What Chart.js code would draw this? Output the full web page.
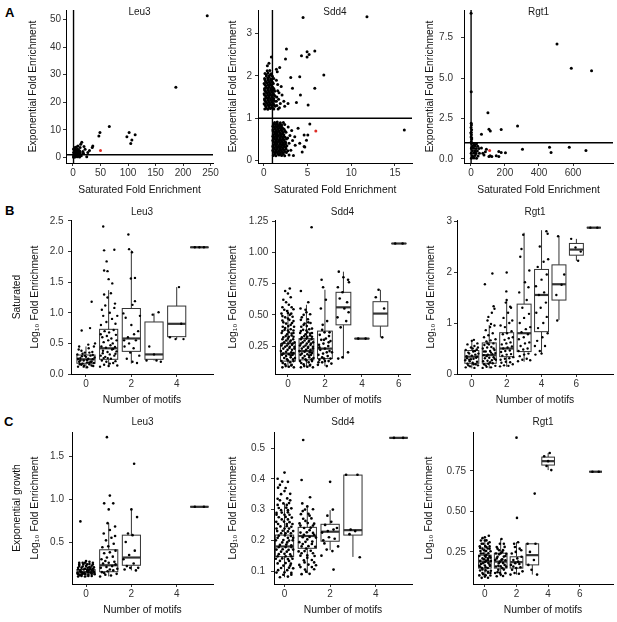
<!DOCTYPE html>
<html>
<head>
<meta charset="utf-8">
<script src="https://cdn.jsdelivr.net/npm/chart.js@4.4.0/dist/chart.umd.min.js"></script>
<style>
    body { margin: 0; width: 617px; height: 622px; background: #fff; position: relative; overflow: hidden;
           font-family: "Liberation Sans", Arial, Helvetica, sans-serif; }
    canvas { position: absolute; }
    .tag { position: absolute; font-weight: bold; font-size: 13px; color: #000; }
</style>
</head>
<body>
<div class="tag" style="left:5px;top:5px">A</div>
<div class="tag" style="left:5px;top:203px">B</div>
<div class="tag" style="left:4px;top:414px">C</div>
<canvas id="aLeu3"></canvas><canvas id="aSdd4"></canvas><canvas id="aRgt1"></canvas>
<canvas id="bLeu3"></canvas><canvas id="bSdd4"></canvas><canvas id="bRgt1"></canvas>
<canvas id="cLeu3"></canvas><canvas id="cSdd4"></canvas><canvas id="cRgt1"></canvas>
<script>
// -------- DATA --------
// panel titles / axis titles
const factors = ['Leu3', 'Sdd4', 'Rgt1'];
const scatterXTitle = 'Saturated Fold Enrichment';
const scatterYTitle = 'Exponential Fold Enrichment';
const motifTitle = 'Number of motifs';
const logTitle = 'Log\u2081\u2080 Fold Enrichment';
const refLevel = 1;

// A: saturated vs exponential fold enrichment (flat x, y pairs)
const aLeu3XTicks = ['0', '50', '100', '150', '200', '250'];
const aLeu3YTicks = ['0', '10', '20', '30', '40', '50'];
const aLeu3Range = [-12.7, 254.5, -2.0, 53.4];
const aLeu3Pts = [244,51.3, 187,25.4, 66,11.2, 49,9.0, 47,7.8, 102,9.0, 98,7.5, 113,8.2, 107,6.3, 105,5.1,
    1,0.5, 2,1.2, 3,0.8, 4,1.9, 5,0.4, 6,1.5, 7,2.3, 2,2.8, 3,3.4, 1,1.8, 4,0.2, 5,2.6, 6,0.9, 8,1.2,
    9,2.0, 10,0.7, 11,1.6, 3,1.1, 2,0.3, 7,0.6, 8,3.1, 12,2.4, 14,1.1, 13,3.6, 9,4.2, 16,5.5, 14,4.8,
    22,3.0, 19,1.5, 25,0.3, 30,2.5, 36,4.2, 35,3.6, 18,2.2, 20,4.0, 6,3.8, 4,2.9, 1,3.1, 15,0.6, 27,1.8,
    5,1.0, 3,2.0, 8,0.3, 11,0.9, 2,0.9, 6,2.1, 1,0.1, 10,2.8, 7,1.4, 12,0.2, 4,3.6, 9,0.5, 13,1.8];
const aLeu3Red = [50, 2.5];

const aSdd4XTicks = ['0', '5', '10', '15'];
const aSdd4YTicks = ['0', '1', '2', '3'];
const aSdd4Range = [-0.65, 16.95, -0.06, 3.56];
const aSdd4Pts = [
    0.12,1.22, 0.47,1.21, 0.78,1.23, 1.16,1.22, 0.25,1.28, 0.6,1.29, 0.95,1.27, 1.3,1.28,
    0.05,1.34, 0.4,1.35, 0.75,1.33, 1.1,1.34, 0.2,1.4, 0.55,1.41, 0.9,1.39, 1.25,1.4,
    0.1,1.46, 0.45,1.47, 0.8,1.45, 1.15,1.46, 0.25,1.52, 0.6,1.53, 0.95,1.51, 1.3,1.52,
    0.05,1.58, 0.4,1.59, 0.75,1.57, 1.1,1.58, 0.2,1.64, 0.55,1.65, 0.9,1.63, 1.25,1.64,
    0.1,1.7, 0.45,1.71, 0.8,1.69, 1.15,1.7, 0.25,1.76, 0.6,1.77, 0.95,1.75,
    0.05,1.82, 0.4,1.83, 0.75,1.81, 1.1,1.82, 0.2,1.88, 0.55,1.89, 0.9,1.87,
    0.1,1.94, 0.45,1.95, 0.8,1.93, 1.15,1.94, 0.3,2.0, 0.65,2.01, 1.0,1.99,
    0.15,2.06, 0.5,2.07, 0.85,2.05, 0.4,2.12, 0.7,2.13,
    0.3,1.25, 0.65,1.25, 1.0,1.25, 0.15,1.31, 0.5,1.31, 0.85,1.31, 1.2,1.31, 0.3,1.37, 0.65,1.37,
    1.0,1.37, 0.1,1.43, 0.45,1.43, 0.8,1.43, 1.15,1.43, 0.3,1.49, 0.65,1.49, 1.0,1.49, 0.1,1.55,
    0.45,1.55, 0.8,1.55, 1.2,1.55, 0.3,1.61, 0.65,1.61, 1.0,1.61, 0.1,1.67, 0.45,1.67, 0.8,1.67,
    1.2,1.67, 0.3,1.73, 0.65,1.73, 1.0,1.73, 0.15,1.79, 0.5,1.79, 0.85,1.79, 0.3,1.85, 0.65,1.85,
    1.0,1.85, 0.15,1.91, 0.5,1.91, 0.85,1.91, 0.6,1.97, 0.3,2.03, 0.8,2.03,
    1.5,1.3, 1.7,1.45, 1.9,1.35, 2.1,1.55, 1.6,1.65, 2.3,1.4, 1.8,1.25, 1.45,1.9, 2.0,1.75, 2.4,1.28,
    1.55,2.1, 1.65,1.22, 1.5,1.5, 1.75,1.6, 1.45,1.4, 1.6,1.8,
    0.42,2.24, 0.88,2.45, 1.45,2.16, 1.83,2.2, 0.6,2.3,
    4.5,3.38, 11.8,3.4, 2.6,2.64, 4.96,2.57, 5.19,2.51, 5.84,2.59, 4.96,2.45, 4.32,2.48, 2.49,2.4,
    6.87,2.02, 3.09,1.96, 4.12,1.98, 3.29,1.71, 5.84,1.71, 4.2,1.55, 5.08,1.31, 3.74,1.37, 2.78,1.35,
    1.1,0.12, 1.4,0.11, 1.75,0.13, 2.05,0.12, 2.4,0.11, 2.9,0.13, 3.4,0.12,
    1.25,0.18, 1.55,0.19, 1.9,0.17, 2.2,0.18, 2.6,0.19,
    1.05,0.24, 1.4,0.25, 1.7,0.23, 2.0,0.24, 2.35,0.25, 2.75,0.23, 3.1,0.24,
    1.2,0.3, 1.55,0.31, 1.85,0.29, 2.15,0.3, 2.5,0.31,
    1.1,0.36, 1.4,0.37, 1.7,0.35, 2.05,0.36, 2.35,0.37, 2.65,0.35, 3.6,0.36,
    1.25,0.42, 1.55,0.43, 1.9,0.41, 2.2,0.42, 2.5,0.43, 2.9,0.41,
    1.05,0.48, 1.4,0.49, 1.7,0.47, 2.0,0.48, 2.3,0.49, 3.3,0.47,
    1.2,0.54, 1.5,0.55, 1.85,0.53, 2.15,0.54, 2.45,0.55, 2.75,0.53,
    1.1,0.6, 1.4,0.61, 1.7,0.59, 2.0,0.6, 2.3,0.61, 3.0,0.59,
    1.25,0.66, 1.55,0.67, 1.85,0.65, 2.2,0.66, 2.55,0.67,
    1.05,0.72, 1.35,0.73, 1.7,0.71, 2.0,0.72, 2.35,0.73, 3.2,0.71,
    1.2,0.78, 1.5,0.79, 1.8,0.77, 2.1,0.78, 2.8,0.79,
    1.1,0.84, 1.4,0.85, 1.7,0.83, 2.05,0.84, 2.4,0.85,
    1.25,0.9, 1.55,0.91, 1.9,0.89, 2.25,0.9,
    1.25,0.15, 1.6,0.15, 1.9,0.15, 2.25,0.15, 1.1,0.21, 1.4,0.21, 1.75,0.21, 2.05,0.21, 2.4,0.21,
    1.25,0.27, 1.55,0.27, 1.85,0.27, 2.2,0.27, 2.55,0.27, 1.05,0.33, 1.4,0.33, 1.7,0.33, 2.0,0.33,
    2.35,0.33, 1.25,0.39, 1.55,0.39, 1.85,0.39, 2.2,0.39, 2.5,0.39, 1.1,0.45, 1.4,0.45, 1.75,0.45,
    2.05,0.45, 2.4,0.45, 1.25,0.51, 1.55,0.51, 1.85,0.51, 2.2,0.51, 2.6,0.51, 1.05,0.57, 1.35,0.57,
    1.65,0.57, 2.0,0.57, 2.3,0.57, 1.25,0.63, 1.55,0.63, 1.9,0.63, 2.15,0.63, 1.1,0.69, 1.45,0.69,
    1.75,0.69, 2.1,0.69, 2.45,0.69, 1.3,0.75, 1.6,0.75, 1.95,0.75, 2.25,0.75, 1.05,0.81, 1.35,0.81,
    1.65,0.81, 1.95,0.81, 1.2,0.87, 1.55,0.87, 1.85,0.87,
    3.93,0.76, 4.62,0.6, 5.27,0.86, 4.62,0.33, 4.89,0.48, 16.07,0.72, 3.55,0.56, 4.12,0.41,
    5.04,0.6, 4.7,0.32, 4.4,0.2];
const aSdd4Red = [5.96, 0.70];

const aRgt1XTicks = ['0', '200', '400', '600'];
const aRgt1YTicks = ['0.0', '2.5', '5.0', '7.5'];
const aRgt1Range = [-40.6, 835, -0.25, 9.2];
const aRgt1Pts = [2,1.05, 4,1.2, 1,1.35, 3,1.5, 2,1.65, 4,1.8, 1,1.95, 3,2.1, 2,2.2, 5,1.3, 0,1.6,
    2,4.15, 1,9.0, 5,1.0,
    3,0.05, 18,0.06, 33,0.04, 8,0.2, 24,0.21, 42,0.19, 2,0.35, 16,0.36, 30,0.34, 50,0.35,
    9,0.5, 24,0.51, 38,0.49, 3,0.65, 17,0.66, 31,0.64, 47,0.65, 10,0.8, 25,0.81, 40,0.79,
    4,0.95, 19,0.96, 33,0.94, 12,0.12, 26,0.42, 6,0.72, 20,0.88,
    506,7.1, 590,5.6, 709,5.45, 274,2.03, 178,1.82, 100,2.85, 106,1.83, 114,1.73, 62,1.53,
    303,0.6, 462,0.73, 578,0.73, 471,0.4, 676,0.52, 164,0.46, 178,0.4, 203,0.38, 164,0.15,
    113,0.2, 149,0.2, 106,0.15, 123,0.15, 77,0.25, 91,0.6, 62,0.67, 85,0.45, 70,0.35];
const aRgt1Red = [110, 0.52];

// B: saturated log10 fold enrichment by motif count
// box stats: [motifs, lower whisker, q1, median, q3, upper whisker]
const bLeu3XTicks = ['0', '2', '4'];
const bLeu3YTicks = ['0.0', '0.5', '1.0', '1.5', '2.0', '2.5'];
const bLeu3Range = [-0.66, 5.6, 0, 2.516];
const bLeu3Box = [[0, 0.09, 0.175, 0.24, 0.31, 0.45], [1, 0.12, 0.24, 0.42, 0.73, 1.37],
    [2, 0.17, 0.37, 0.58, 1.07, 2.02], [3, 0.22, 0.24, 0.32, 0.85, 0.99],
    [4, 0.57, 0.61, 0.82, 1.11, 1.42], [5, 2.07, 2.07, 2.07, 2.07, 2.07]];
const bLeu3Pts = [-0.35,0.12, -0.2,0.15, 0.05,0.11, 0.25,0.14, 0.35,0.18, -0.3,0.2, -0.1,0.22, 0.15,0.19,
    0.3,0.24, -0.25,0.26, 0,0.28, 0.2,0.3, -0.38,0.32, -0.15,0.17, 0.1,0.25, 0.38,0.27, -0.05,0.35,
    0.28,0.36, -0.32,0.4, 0.12,0.42, -0.2,0.38, 0.35,0.45, -0.3,0.45, 0.1,0.48, 0.18,0.75, -0.19,0.71,
    0.25,1.18, 0.4,0.5, -0.08,0.14, 0.22,0.2, -0.18,0.29, 0.05,0.19, 0.32,0.13, -0.27,0.16,
    -0.1,0.12, 0.15,0.16, -0.25,0.22, 0.05,0.23, 0.25,0.2, -0.35,0.25, -0.05,0.3, 0.3,0.31, -0.15,0.33,
    0.15,0.35,
    0.62,0.12, 0.8,0.15, 1.0,0.13, 1.2,0.18, 1.38,0.14, 0.7,0.22, 0.9,0.2, 1.1,0.25, 1.3,0.21,
    0.65,0.3, 0.85,0.28, 1.05,0.32, 1.25,0.3, 0.75,0.38, 0.95,0.36, 1.15,0.4, 1.35,0.37, 0.68,0.45,
    0.88,0.43, 1.08,0.47, 1.28,0.44, 0.78,0.52, 0.98,0.55, 1.18,0.5, 0.72,0.6, 0.92,0.62, 1.12,0.58,
    1.32,0.64, 0.82,0.7, 1.02,0.68, 1.22,0.72, 0.66,0.8, 0.9,0.85, 1.15,0.9, 1.3,0.82, 0.76,0.95,
    1.05,1.0, 1.25,1.08, 0.85,1.12, 1.28,1.15, 0.95,1.25, 0.8,1.3, 1.1,1.32, 1.16,1.48, 0.91,1.84,
    0.8,1.69, 0.95,1.68, 0.76,2.41, 0.8,2.02, 1.25,2.03, 1.0,1.55, 0.7,1.05, 1.35,0.55, 0.65,0.65,
    1.38,0.95, 0.74,0.34, 1.2,0.41, 0.96,0.26, 1.05,0.17, 0.78,0.26, 1.3,0.33,
    1.87,2.28, 1.9,2.04, 2.03,1.99, 1.98,1.56, 2.16,1.57, 2.16,1.19, 2.05,1.13, 1.65,0.99, 1.75,0.92,
    2.0,0.8, 2.3,0.7, 1.85,0.6, 2.2,0.55, 1.7,0.45, 2.1,0.42, 1.95,0.35, 2.35,0.3, 1.8,0.25, 2.05,0.2,
    2.25,0.18, 1.68,0.55, 2.38,0.95, 1.9,0.5, 2.12,0.65,
    2.94,0.97, 3.2,1.01, 2.79,0.45, 3.11,0.22, 2.67,0.22, 3.0,0.32, 3.3,0.2,
    3.7,0.6, 3.95,0.57, 4.3,0.57, 4.1,1.42, 4.2,0.82,
    4.8,2.07, 5.0,2.07, 5.2,2.07];

const bSdd4XTicks = ['0', '2', '4', '6'];
const bSdd4YTicks = ['0.25', '0.50', '0.75', '1.00', '1.25'];
const bSdd4Range = [-0.7, 6.6, 0.027, 1.258];
const bSdd4Box = [[0, 0.08, 0.13, 0.19, 0.27, 0.54], [1, 0.08, 0.14, 0.21, 0.31, 0.58],
    [2, 0.09, 0.15, 0.23, 0.37, 0.70], [3, 0.15, 0.42, 0.56, 0.68, 0.845],
    [4, 0.31, 0.31, 0.31, 0.31, 0.31], [5, 0.32, 0.41, 0.51, 0.605, 0.70], [6, 1.07, 1.07, 1.07, 1.07, 1.07]];
const bSdd4Pts = [-0.3,0.08, 0.05,0.085, 0.32,0.08, -0.15,0.105, 0.2,0.1, -0.35,0.13, 0.0,0.135, 0.3,0.13,
    -0.2,0.155, 0.15,0.16, 0.38,0.155, -0.32,0.18, 0.05,0.185, 0.25,0.18, -0.1,0.205, 0.18,0.2, -0.38,0.21,
    -0.25,0.23, 0.08,0.235, 0.35,0.23, -0.05,0.255, 0.22,0.26, -0.35,0.255, -0.2,0.28, 0.12,0.285, 0.36,0.28,
    -0.3,0.305, 0.0,0.31, 0.28,0.305, -0.12,0.33, 0.2,0.335, -0.34,0.355, 0.05,0.36, 0.3,0.355,
    -0.18,0.38, 0.15,0.385, -0.28,0.405, 0.02,0.41, 0.33,0.405, -0.1,0.43, 0.22,0.435, -0.3,0.455,
    0.08,0.46, -0.15,0.48, 0.25,0.485, -0.35,0.51, 0.0,0.515, 0.18,0.51, -0.2,0.54, 0.3,0.545,
    0.05,0.58, -0.1,0.6, -0.25,0.62, 0.15,0.64, 0.0,0.67, -0.15,0.69, 0.1,0.71,
    -0.12,0.09, 0.18,0.095, -0.28,0.115, 0.12,0.12, -0.05,0.145, 0.28,0.145, -0.1,0.17, 0.15,0.175,
    -0.25,0.19, 0.3,0.195, -0.02,0.22, 0.22,0.22, -0.15,0.245, 0.1,0.245, 0.35,0.245, -0.3,0.27,
    0.02,0.27, 0.25,0.27, -0.1,0.295, 0.15,0.295, -0.25,0.32, 0.05,0.325, 0.3,0.325, -0.05,0.345,
    0.2,0.35, -0.3,0.37, 0.0,0.375, 0.3,0.375, -0.15,0.395, 0.15,0.42, -0.25,0.44, 0.3,0.45, 0.0,0.47,
    -0.3,0.49, 0.1,0.5, -0.05,0.53, 0.2,0.56, -0.3,0.56,
    0.7,0.08, 1.05,0.085, 1.35,0.08, 0.85,0.105, 1.2,0.1, 0.65,0.13, 1.0,0.135, 1.3,0.13, 0.8,0.155,
    1.15,0.16, 1.38,0.155, 0.68,0.18, 1.05,0.185, 1.25,0.18, 0.9,0.205, 1.18,0.2, 0.62,0.21, 0.75,0.23,
    1.08,0.235, 1.35,0.23, 0.95,0.255, 1.22,0.26, 0.65,0.255, 0.8,0.28, 1.12,0.285, 1.36,0.28, 0.7,0.305,
    1.0,0.31, 1.28,0.305, 0.88,0.33, 1.2,0.335, 0.66,0.355, 1.05,0.36, 1.3,0.355, 0.82,0.38, 1.15,0.385,
    0.72,0.405, 1.02,0.41, 0.9,0.43, 1.22,0.435, 0.7,0.46, 1.08,0.465, 0.85,0.5, 1.2,0.505, 0.95,0.54,
    0.68,0.55, 1.1,0.6, 0.7,0.69, 1.28,1.2,
    0.88,0.09, 1.18,0.095, 0.72,0.115, 1.12,0.12, 0.95,0.145, 1.28,0.145, 0.9,0.17, 1.15,0.175,
    0.75,0.19, 1.3,0.195, 0.98,0.22, 1.22,0.22, 0.85,0.245, 1.1,0.245, 1.35,0.245, 0.7,0.27, 1.02,0.27,
    1.25,0.27, 0.9,0.295, 1.15,0.295, 0.75,0.32, 1.05,0.325, 1.3,0.325, 0.95,0.345, 1.2,0.35, 0.7,0.37,
    1.0,0.375, 1.3,0.39, 0.85,0.42, 1.1,0.44, 0.75,0.48, 1.0,0.52,
    1.62,0.1, 1.85,0.12, 2.1,0.09, 2.35,0.11, 1.7,0.14, 1.95,0.15, 2.2,0.13, 1.65,0.18, 1.9,0.19,
    2.15,0.17, 2.38,0.2, 1.75,0.22, 2.0,0.23, 2.25,0.21, 1.68,0.26, 1.92,0.27, 2.18,0.25, 1.8,0.3,
    2.05,0.31, 2.3,0.29, 1.72,0.34, 1.98,0.36, 2.22,0.33, 1.88,0.42, 2.12,0.45, 1.78,0.55, 1.82,0.78,
    1.9,0.72, 2.05,0.62, 1.65,0.12, 2.0,0.13, 2.3,0.15, 1.85,0.16, 2.1,0.2, 1.7,0.24, 2.2,0.28,
    1.95,0.3, 2.25,0.36, 1.85,0.38,
    2.75,0.845, 3.0,0.8, 3.25,0.78, 3.3,0.76, 2.7,0.72, 2.95,0.68, 2.8,0.63, 3.2,0.6, 3.05,0.55,
    3.28,0.52, 2.68,0.48, 3.15,0.45, 2.72,0.15, 3.25,0.2, 2.95,0.16, 2.85,0.4,
    3.8,0.31, 4.2,0.31, 4.9,0.70, 4.75,0.64, 5.1,0.32, 5.2,0.55, 5.8,1.07, 6.2,1.07];

const bRgt1XTicks = ['0', '2', '4', '6'];
const bRgt1YTicks = ['0', '1', '2', '3'];
const bRgt1Range = [-0.85, 8.1, 0, 3.02];
const bRgt1Box = [[0, 0.11, 0.21, 0.34, 0.46, 0.67], [1, 0.11, 0.21, 0.37, 0.61, 0.96],
    [2, 0.14, 0.34, 0.5, 0.81, 1.45], [3, 0.24, 0.44, 0.8, 1.37, 2.77], [4, 0.39, 0.83, 1.55, 2.05, 2.82],
    [5, 1.06, 1.45, 1.76, 2.14, 2.71], [6, 2.22, 2.33, 2.44, 2.56, 2.65], [7, 2.87, 2.87, 2.87, 2.87, 2.87]];
const bRgt1Pts = [-0.35,0.13, -0.1,0.15, 0.15,0.12, 0.35,0.17, -0.25,0.2, 0.05,0.22, 0.3,0.24, -0.38,0.27,
    -0.15,0.28, 0.1,0.3, 0.25,0.32, -0.3,0.35, 0,0.36, 0.2,0.38, 0.38,0.4, -0.2,0.42, 0.08,0.44,
    -0.35,0.47, 0.28,0.48, -0.05,0.52, 0.15,0.55, -0.25,0.58, 0.32,0.6, 0,0.65, 0.12,0.67, -0.12,0.25,
    0.22,0.19, -0.28,0.31, 0.18,0.45, -0.2,0.17, 0.1,0.19, -0.05,0.29, 0.3,0.34, -0.15,0.4, 0.05,0.5,
    0.35,0.52,
    0.62,0.12, 0.85,0.14, 1.1,0.13, 1.35,0.16, 0.7,0.19, 0.95,0.2, 1.2,0.21, 0.65,0.25, 0.9,0.26,
    1.15,0.27, 1.38,0.28, 0.75,0.31, 1.0,0.32, 1.25,0.33, 0.68,0.37, 0.92,0.38, 1.18,0.39, 1.35,0.41,
    0.8,0.44, 1.05,0.45, 1.3,0.47, 0.63,0.5, 0.88,0.52, 1.12,0.53, 0.72,0.57, 0.98,0.58, 1.24,0.6,
    0.84,0.64, 1.08,0.66, 1.36,0.68, 0.7,0.72, 0.95,0.76, 1.2,0.8, 0.8,0.86, 1.05,0.92, 1.3,0.95,
    0.9,1.05, 1.15,1.2, 1.3,1.28, 1.25,1.33, 0.75,1.76, 1.18,1.97, 0.95,1.12, 1.1,0.98,
    0.8,0.17, 1.05,0.23, 1.3,0.3, 0.85,0.35, 1.1,0.42, 0.7,0.44, 1.25,0.5, 0.9,0.6,
    1.62,0.15, 1.85,0.17, 2.1,0.16, 2.35,0.19, 1.7,0.22, 1.95,0.24, 2.2,0.23, 1.65,0.28, 1.9,0.3,
    2.15,0.31, 2.38,0.33, 1.75,0.36, 2.0,0.38, 2.25,0.39, 1.68,0.43, 1.92,0.45, 2.18,0.46, 1.8,0.5,
    2.05,0.52, 2.3,0.54, 1.72,0.58, 1.98,0.6, 2.22,0.62, 1.88,0.67, 2.12,0.7, 2.35,0.72, 1.78,0.78,
    2.02,0.8, 2.28,0.84, 1.9,0.92, 2.15,1.0, 1.82,1.1, 2.08,1.2, 2.25,1.3, 2.2,1.32, 1.95,1.4,
    2.0,1.45, 1.98,1.62, 2.0,1.99, 1.65,0.95, 2.32,1.05,
    2.65,0.25, 2.9,0.28, 3.15,0.3, 3.35,0.27, 2.75,0.35, 3.0,0.38, 3.25,0.4, 2.68,0.45, 2.95,0.48,
    3.2,0.5, 2.8,0.55, 3.05,0.6, 3.3,0.62, 2.7,0.68, 2.98,0.72, 3.22,0.78, 2.85,0.82, 3.1,0.88,
    3.35,0.92, 2.75,1.0, 3.0,1.1, 3.28,1.18, 2.9,1.3, 3.15,1.45, 2.72,1.6, 3.05,1.8, 3.3,2.03,
    2.78,2.3, 2.85,2.45, 2.95,2.73, 3.25,1.7,
    3.65,0.38, 3.9,0.45, 4.2,0.55, 3.75,0.65, 4.05,0.72, 4.35,0.8, 3.8,0.9, 4.1,1.0, 4.3,1.12,
    3.7,1.2, 3.95,1.3, 4.25,1.4, 3.85,1.55, 4.15,1.6, 3.68,1.72, 4.0,1.85, 4.3,1.95, 3.78,2.1,
    4.12,2.2, 4.38,2.25, 3.9,2.5, 4.28,2.8, 4.35,2.75, 3.62,0.55, 4.0,0.4,
    4.95,2.7, 5.3,1.95, 4.85,1.55, 4.9,1.05, 5.15,1.75, 5.7,2.65, 6.1,2.22, 5.95,2.48, 6.25,2.4,
    6.8,2.87, 7.2,2.87];

// C: exponential growth log10 fold enrichment by motif count
const cLeu3XTicks = ['0', '2', '4'];
const cLeu3YTicks = ['0.5', '1.0', '1.5'];
const cLeu3Range = [-0.62, 5.6, 0.012, 1.78];
const cLeu3Box = [[0, 0.09, 0.13, 0.15, 0.18, 0.27], [1, 0.1, 0.155, 0.23, 0.41, 0.72],
    [2, 0.17, 0.23, 0.32, 0.58, 0.88], [5, 0.91, 0.91, 0.91, 0.91, 0.91]];
const cLeu3Pts = [-0.35,0.1, -0.05,0.1, 0.25,0.105, -0.2,0.12, 0.1,0.12, 0.38,0.125, -0.38,0.14, -0.08,0.14,
    0.22,0.145, -0.25,0.16, 0.05,0.16, 0.32,0.165, -0.35,0.18, -0.1,0.18, 0.18,0.185, -0.2,0.2,
    0.08,0.2, 0.35,0.205, -0.3,0.22, 0.0,0.22, 0.25,0.225, -0.12,0.24, 0.15,0.245, -0.3,0.26, 0.3,0.26,
    0.0,0.28, -0.25,0.74, -0.15,0.13, 0.3,0.19, -0.28,0.115, 0.12,0.175, -0.05,0.26,
    -0.2,0.105, 0.1,0.105, -0.35,0.125, -0.05,0.128, 0.25,0.13, -0.2,0.15, 0.1,0.15, 0.35,0.15,
    -0.25,0.17, 0.05,0.175, 0.25,0.17, -0.35,0.2, -0.05,0.19, 0.2,0.2, -0.15,0.215, 0.15,0.21,
    -0.3,0.24, 0.05,0.24, 0.3,0.24, -0.15,0.26, 0.15,0.27,
    0.62,0.1, 0.85,0.12, 1.1,0.11, 1.35,0.13, 0.7,0.15, 0.95,0.16, 1.2,0.17, 0.65,0.2, 0.9,0.21,
    1.15,0.22, 1.38,0.19, 0.75,0.25, 1.0,0.26, 1.25,0.27, 0.68,0.3, 0.92,0.32, 1.18,0.33, 0.8,0.37,
    1.05,0.38, 1.3,0.4, 0.72,0.44, 0.98,0.45, 1.22,0.48, 0.88,0.52, 1.12,0.55, 1.28,0.57, 0.78,0.6,
    1.05,0.64, 1.28,0.68, 0.95,0.72, 1.0,0.88, 0.8,0.95, 1.2,0.95, 1.05,1.04, 0.92,1.72,
    0.8,0.14, 1.05,0.18, 1.3,0.24, 0.85,0.28,
    1.7,0.18, 1.95,0.2, 2.2,0.17, 1.8,0.22, 2.1,0.25, 2.3,0.2, 1.65,0.3, 1.9,0.35, 2.15,0.4, 1.75,0.5,
    2.05,0.58, 1.85,0.6, 2.25,0.79, 2.0,0.88, 2.12,1.41,
    4.8,0.91, 5.2,0.91];

const cSdd4XTicks = ['0', '2', '4'];
const cSdd4YTicks = ['0.1', '0.2', '0.3', '0.4', '0.5'];
const cSdd4Range = [-0.46, 5.59, 0.058, 0.552];
const cSdd4Box = [[0, 0.08, 0.147, 0.18, 0.217, 0.32], [1, 0.093, 0.174, 0.214, 0.242, 0.31],
    [2, 0.168, 0.197, 0.228, 0.252, 0.298], [3, 0.146, 0.217, 0.233, 0.412, 0.412], [5, 0.533, 0.533, 0.533, 0.533, 0.533]];
const cSdd4Pts = [-0.2,0.08, 0.15,0.082, -0.35,0.095, 0.0,0.096, 0.3,0.094, -0.15,0.11, 0.2,0.111, 0.38,0.109,
    -0.3,0.125, 0.05,0.126, 0.28,0.124, -0.38,0.14, -0.1,0.141, 0.15,0.139, 0.35,0.14, -0.25,0.155,
    0.0,0.156, 0.25,0.154, -0.35,0.17, -0.08,0.171, 0.18,0.169, 0.38,0.17, -0.2,0.185, 0.08,0.186,
    0.3,0.184, -0.38,0.2, -0.05,0.201, 0.2,0.199, 0.36,0.2, -0.25,0.215, 0.02,0.216, 0.28,0.214,
    -0.32,0.23, -0.08,0.231, 0.15,0.229, 0.38,0.23, -0.18,0.245, 0.1,0.246, 0.3,0.244, -0.36,0.26,
    -0.02,0.261, 0.22,0.259, -0.25,0.275, 0.05,0.276, 0.32,0.274, -0.12,0.29, 0.15,0.291, -0.35,0.289,
    -0.25,0.305, 0.08,0.306, 0.3,0.304, -0.05,0.32, 0.2,0.321, -0.3,0.335, 0.12,0.336, -0.15,0.35,
    0.25,0.351, 0.05,0.37, -0.28,0.371, 0.15,0.39, -0.1,0.391, -0.3,0.4, 0.0,0.42,
    -0.05,0.088, 0.3,0.088, -0.28,0.103, 0.12,0.103, -0.05,0.118, 0.25,0.118, -0.2,0.133, 0.2,0.133,
    -0.3,0.148, 0.05,0.148, 0.3,0.148, -0.15,0.163, 0.1,0.163, -0.25,0.178, 0.05,0.178, 0.3,0.178,
    -0.1,0.193, 0.12,0.193, -0.3,0.208, 0.15,0.208, 0.38,0.208, -0.15,0.223, 0.05,0.223, 0.28,0.223,
    -0.35,0.238, 0.0,0.238, 0.2,0.238, -0.28,0.253, 0.1,0.253, 0.35,0.253, -0.12,0.268, 0.15,0.268,
    -0.35,0.283, 0.0,0.283, 0.22,0.283, -0.15,0.298, 0.15,0.298, -0.3,0.315, 0.1,0.315, -0.2,0.33,
    0.25,0.33, 0.0,0.36, -0.2,0.38,
    0.75,0.09, 1.1,0.091, 0.9,0.105, 1.3,0.106, 0.65,0.12, 1.05,0.121, 1.38,0.119, 0.85,0.135,
    1.2,0.136, 0.7,0.15, 1.0,0.151, 1.32,0.149, 0.88,0.165, 1.15,0.166, 0.62,0.164, 0.75,0.18,
    1.05,0.181, 1.35,0.179, 0.92,0.195, 1.22,0.196, 0.65,0.194, 0.8,0.21, 1.1,0.211, 1.38,0.209,
    0.7,0.225, 0.98,0.226, 1.25,0.224, 0.86,0.24, 1.15,0.241, 0.66,0.255, 1.02,0.256, 1.3,0.254,
    0.82,0.27, 1.18,0.271, 0.72,0.285, 1.05,0.286, 0.9,0.3, 1.25,0.301, 0.78,0.32, 1.12,0.34,
    0.75,0.396, 0.82,0.526,
    0.95,0.098, 0.7,0.113, 1.2,0.113, 0.88,0.128, 1.3,0.128, 1.0,0.143, 0.75,0.158, 1.25,0.158,
    0.95,0.173, 1.2,0.188, 0.8,0.188, 1.0,0.203, 1.3,0.218, 0.85,0.218, 1.1,0.233, 0.7,0.248,
    1.25,0.248, 0.92,0.263, 1.1,0.28, 0.8,0.295, 1.0,0.31,
    1.62,0.15, 1.85,0.17, 2.1,0.165, 2.35,0.18, 1.7,0.2, 1.95,0.21, 2.2,0.205, 1.65,0.225, 1.9,0.23,
    2.15,0.235, 2.3,0.24, 1.78,0.25, 2.05,0.26, 1.88,0.28, 2.12,0.3, 1.75,0.19, 2.0,0.39, 2.15,0.105,
    2.7,0.413, 3.2,0.413, 2.9,0.235, 3.1,0.23, 3.3,0.145, 2.85,0.22,
    4.8,0.533, 5.2,0.533];

const cRgt1XTicks = ['0', '2', '4', '6'];
const cRgt1YTicks = ['0.25', '0.50', '0.75'];
const cRgt1Range = [-0.75, 8.1, 0.052, 0.99];
const cRgt1Box = [[0, 0.09, 0.15, 0.19, 0.23, 0.33], [1, 0.1, 0.15, 0.19, 0.242, 0.33],
    [2, 0.11, 0.15, 0.187, 0.22, 0.31], [3, 0.11, 0.17, 0.23, 0.30, 0.30],
    [4, 0.755, 0.786, 0.81, 0.835, 0.86], [7, 0.745, 0.745, 0.745, 0.745, 0.745]];
const cRgt1Pts = [-0.2,0.09, 0.2,0.091, -0.35,0.105, 0.05,0.106, 0.35,0.104, -0.15,0.12, 0.2,0.121,
    -0.3,0.135, 0.05,0.136, 0.38,0.134, -0.18,0.15, 0.18,0.151, -0.35,0.165, 0.0,0.166, 0.32,0.164,
    -0.12,0.18, 0.22,0.181, -0.3,0.195, 0.08,0.196, 0.38,0.194, -0.15,0.21, 0.2,0.211, -0.35,0.225,
    0.0,0.226, 0.3,0.224, -0.1,0.24, 0.22,0.241, -0.28,0.255, 0.08,0.256, 0.36,0.254, -0.15,0.27,
    0.18,0.271, -0.32,0.285, 0.02,0.286, 0.3,0.284, -0.1,0.3, 0.2,0.301, -0.25,0.32, 0.1,0.321,
    0.0,0.34, -0.15,0.335, 0.25,0.35,
    0.0,0.098, -0.1,0.112, 0.35,0.12, 0.2,0.128, -0.15,0.142, 0.05,0.155, -0.3,0.158, 0.3,0.172,
    0.0,0.188, -0.25,0.175, 0.2,0.2, -0.05,0.205, 0.35,0.215, 0.05,0.218, -0.25,0.24, 0.1,0.232,
    -0.05,0.26, 0.3,0.27, -0.3,0.275, 0.1,0.28, -0.2,0.3, 0.3,0.31, 0.0,0.32,
    0.75,0.1, 1.15,0.101, 0.65,0.12, 0.95,0.121, 1.3,0.119, 0.85,0.14, 1.2,0.141, 0.7,0.16, 1.0,0.161,
    1.35,0.159, 0.88,0.18, 1.15,0.181, 0.65,0.2, 1.05,0.201, 1.3,0.199, 0.8,0.22, 1.2,0.221, 0.7,0.24,
    1.0,0.241, 1.35,0.239, 0.9,0.26, 1.15,0.261, 0.75,0.28, 1.25,0.281, 0.95,0.3, 1.05,0.33,
    1.0,0.11, 0.8,0.125, 1.1,0.15, 0.85,0.165, 1.25,0.17, 0.95,0.19, 1.1,0.205, 0.75,0.21, 1.3,0.225,
    0.9,0.235, 1.1,0.25, 0.8,0.27, 1.2,0.3,
    1.62,0.11, 1.88,0.12, 2.15,0.115, 2.38,0.13, 1.72,0.14, 1.98,0.15, 2.25,0.155, 1.65,0.17, 1.92,0.18,
    2.18,0.175, 1.8,0.2, 2.05,0.21, 2.32,0.22, 1.7,0.24, 1.95,0.25, 2.2,0.27, 1.85,0.3, 2.1,0.31,
    2.0,0.955, 2.03,0.46, 1.8,0.16, 2.1,0.19, 2.3,0.26, 1.9,0.28,
    2.7,0.3, 3.2,0.3, 2.85,0.25, 3.1,0.2, 2.95,0.14, 3.3,0.11, 2.75,0.17, 3.15,0.61,
    3.75,0.84, 4.1,0.86, 3.9,0.78, 4.2,0.755, 4.0,0.81, 6.8,0.745, 7.2,0.745];
// -------- END DATA --------

// -------- HELPERS --------
const FONT = '"Liberation Sans", Arial, Helvetica, sans-serif';
const BOX_WIDTH = 0.8;

function pairs(flat) {
    const out = [];
    for (let i = 0; i < flat.length; i += 2) out.push({ x: flat[i], y: flat[i + 1] });
    return out;
}

// facet title drawn over the panel
const panelTitle = {
    id: 'panelTitle',
    afterDraw(chart, args, opts) {
        const { ctx, chartArea } = chart;
        ctx.save();
        ctx.font = `10px ${FONT}`;
        ctx.fillStyle = '#1a1a1a';
        ctx.textAlign = 'center';
        ctx.textBaseline = 'middle';
        ctx.fillText(opts.text, (chartArea.left + chartArea.right) / 2, opts.y);
        ctx.restore();
    }
};

// box plots, drawn under the jittered points
const boxPlot = {
    id: 'boxPlot',
    beforeDatasetsDraw(chart, args, opts) {
        if (!opts.stats) return;
        const { ctx, scales: { x, y } } = chart;
        const seg = (x1, y1, x2, y2) => { ctx.beginPath(); ctx.moveTo(x1, y1); ctx.lineTo(x2, y2); ctx.stroke(); };
        ctx.save();
        ctx.strokeStyle = '#333';
        opts.stats.forEach(([cx, lo, q1, med, q3, hi]) => {
            const l = x.getPixelForValue(cx - BOX_WIDTH / 2);
            const r = x.getPixelForValue(cx + BOX_WIDTH / 2);
            const m = x.getPixelForValue(cx);
            const pq1 = y.getPixelForValue(q1), pq3 = y.getPixelForValue(q3);
            ctx.lineWidth = 1;
            seg(m, y.getPixelForValue(hi), m, pq3);
            seg(m, pq1, m, y.getPixelForValue(lo));
            ctx.fillStyle = '#fff';
            ctx.fillRect(l, pq3, r - l, pq1 - pq3);
            ctx.strokeRect(l, pq3, r - l, pq1 - pq3);
            ctx.lineWidth = 2.2;
            seg(l, y.getPixelForValue(med), r, y.getPixelForValue(med));
        });
        ctx.restore();
    }
};

function axis(range, labels, pad, fit, title, titleFont) {
    return {
        type: 'linear', min: range[0], max: range[1],
        afterFit: fit,
        afterBuildTicks: s => { s.ticks = labels.map(v => ({ value: parseFloat(v) })); },
        ticks: { callback: (v, i) => labels[i], font: { family: FONT, size: 10 }, color: '#333',
                 padding: pad, autoSkip: false, maxRotation: 0 },
        grid: { display: true, drawOnChartArea: false, drawTicks: true, tickLength: 3,
                tickColor: '#000', tickWidth: 0.8 },
        border: { display: true, color: '#000', width: 1 },
        title: { display: true, text: title, font: titleFont, color: '#111', padding: 0 }
    };
}

function makePanel(p) {
    const canvas = document.getElementById(p.id);
    canvas.width = p.w;
    canvas.height = p.h;
    canvas.style.left = p.left + 'px';
    canvas.style.top = p.top + 'px';
    const multi = Array.isArray(p.yTitle);
    const xs = axis([p.range[0], p.range[1]], p.xTicks, 1.5,
        s => { s.height = p.xH; s.paddingLeft = 0; s.paddingRight = 0; },
        p.xTitle, { family: FONT, size: 10.3, lineHeight: 1.2 });
    const ys = axis([p.range[2], p.range[3]], p.yTicks, p.yPad,
        s => { s.width = p.yW; s.paddingTop = 0; s.paddingBottom = 0; },
        p.yTitle, { family: FONT, size: 10.3, lineHeight: multi ? 1.75 : 1.2 });
    new Chart(canvas, {
        type: 'scatter',
        data: { datasets: p.datasets },
        options: {
            responsive: false, animation: false, events: [],
            layout: { padding: { top: p.padTop, right: p.padRight, left: 0, bottom: 0 } },
            plugins: {
                legend: { display: false }, tooltip: { enabled: false },
                panelTitle: { text: p.title, y: 12.7 },
                boxPlot: { stats: p.boxes }
            },
            scales: { x: xs, y: ys }
        },
        plugins: [panelTitle, boxPlot]
    });
}

function dots(flat, color, r) {
    return { data: pairs(flat), backgroundColor: color, borderWidth: 0, pointRadius: r, order: 1 };
}

function refLines(range) {
    const style = { showLine: true, borderColor: '#000', borderWidth: 1.4, pointRadius: 0, order: 0 };
    return [
        Object.assign({ data: [{ x: range[0], y: refLevel }, { x: range[1], y: refLevel }] }, style),
        Object.assign({ data: [{ x: refLevel, y: range[2] }, { x: refLevel, y: range[3] }] }, style)
    ];
}
// -------- END HELPERS --------

// -------- PANELS --------
document.addEventListener('DOMContentLoaded', () => {
    const RED = 'rgb(222, 45, 38)';
    // row A
    makePanel({ id: 'aLeu3', left: 27, top: 0, w: 193, h: 196, padTop: 10, padRight: 7, yW: 39, xH: 33, yPad: 2,
        range: aLeu3Range, xTicks: aLeu3XTicks, yTicks: aLeu3YTicks, title: factors[0],
        xTitle: scatterXTitle, yTitle: scatterYTitle,
        datasets: [dots(aLeu3Pts, '#000', 1.5), dots(aLeu3Red, RED, 1.5), ...refLines(aLeu3Range)] });
    makePanel({ id: 'aSdd4', left: 227, top: 0, w: 191, h: 196, padTop: 10, padRight: 6, yW: 31, xH: 33, yPad: 3,
        range: aSdd4Range, xTicks: aSdd4XTicks, yTicks: aSdd4YTicks, title: factors[1],
        xTitle: scatterXTitle, yTitle: scatterYTitle,
        datasets: [dots(aSdd4Pts, '#000', 1.5), dots(aSdd4Red, RED, 1.5), ...refLines(aSdd4Range)] });
    makePanel({ id: 'aRgt1', left: 424, top: 0, w: 193, h: 196, padTop: 10, padRight: 2, yW: 40, xH: 33, yPad: 8,
        range: aRgt1Range, xTicks: aRgt1XTicks, yTicks: aRgt1YTicks, title: factors[2],
        xTitle: scatterXTitle, yTitle: scatterYTitle,
        datasets: [dots(aRgt1Pts, '#000', 1.5), dots(aRgt1Red, RED, 1.5), ...refLines(aRgt1Range)] });

    // row B
    makePanel({ id: 'bLeu3', left: 8, top: 200, w: 212, h: 206, padTop: 20, padRight: 7, yW: 63, xH: 32, yPad: 4.4,
        range: bLeu3Range, xTicks: bLeu3XTicks, yTicks: bLeu3YTicks, title: factors[0],
        xTitle: motifTitle, yTitle: ['Saturated', logTitle], boxes: bLeu3Box,
        datasets: [dots(bLeu3Pts, '#000', 1.2)] });
    makePanel({ id: 'bSdd4', left: 227, top: 200, w: 191, h: 206, padTop: 20, padRight: 8, yW: 48, xH: 32, yPad: 3.7,
        range: bSdd4Range, xTicks: bSdd4XTicks, yTicks: bSdd4YTicks, title: factors[1],
        xTitle: motifTitle, yTitle: logTitle, boxes: bSdd4Box,
        datasets: [dots(bSdd4Pts, '#000', 1.3)] });
    makePanel({ id: 'bRgt1', left: 425, top: 200, w: 192, h: 206, padTop: 20, padRight: 2, yW: 32, xH: 32, yPad: 2,
        range: bRgt1Range, xTicks: bRgt1XTicks, yTicks: bRgt1YTicks, title: factors[2],
        xTitle: motifTitle, yTitle: logTitle, boxes: bRgt1Box,
        datasets: [dots(bRgt1Pts, '#000', 1.2)] });

    // row C
    makePanel({ id: 'cLeu3', left: 8, top: 410, w: 212, h: 206, padTop: 22, padRight: 7, yW: 64, xH: 32, yPad: 5,
        range: cLeu3Range, xTicks: cLeu3XTicks, yTicks: cLeu3YTicks, title: factors[0],
        xTitle: motifTitle, yTitle: ['Exponential growth', logTitle], boxes: cLeu3Box,
        datasets: [dots(cLeu3Pts, '#000', 1.3)] });
    makePanel({ id: 'cSdd4', left: 227, top: 410, w: 191, h: 206, padTop: 22, padRight: 6, yW: 47, xH: 32, yPad: 6,
        range: cSdd4Range, xTicks: cSdd4XTicks, yTicks: cSdd4YTicks, title: factors[1],
        xTitle: motifTitle, yTitle: logTitle, boxes: cSdd4Box,
        datasets: [dots(cSdd4Pts, '#000', 1.35)] });
    makePanel({ id: 'cRgt1', left: 423, top: 410, w: 194, h: 206, padTop: 22, padRight: 2, yW: 50, xH: 32, yPad: 4,
        range: cRgt1Range, xTicks: cRgt1XTicks, yTicks: cRgt1YTicks, title: factors[2],
        xTitle: motifTitle, yTitle: logTitle, boxes: cRgt1Box,
        datasets: [dots(cRgt1Pts, '#000', 1.3)] });
});
// -------- END PANELS --------
</script>
</body>
</html>
